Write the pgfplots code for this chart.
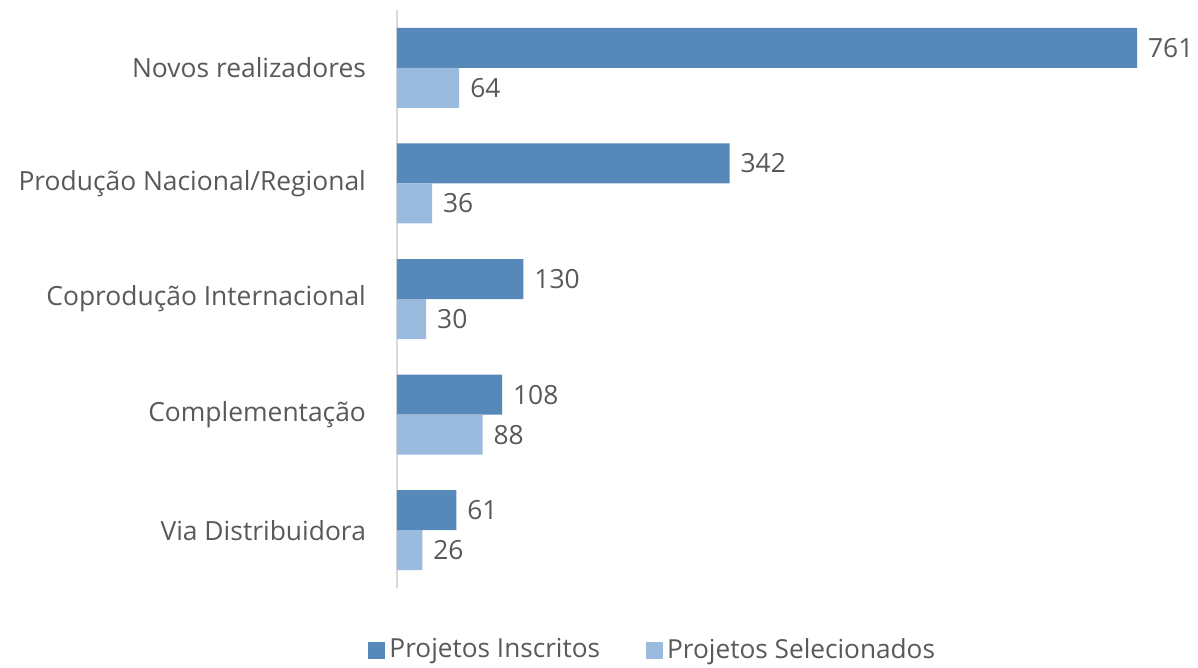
\documentclass[border=0pt]{standalone}
\usepackage{fontspec}
\setmainfont{Open Sans}
\usepackage{pgfplots}
\pgfplotsset{compat=1.18}
\definecolor{inscr}{RGB}{86,137,185}
\definecolor{selec}{RGB}{155,187,222}
\definecolor{txt}{RGB}{89,89,89}
\definecolor{axln}{RGB}{217,217,217}

\begin{document}
\begin{tikzpicture}
\path[use as bounding box] (-198.5pt,-40pt) rectangle (400.5pt,294pt);
\begin{axis}[
  scale only axis,
  width=370pt, height=289pt,
  xbar, bar width=20pt,
  xmin=0, xmax=761,
  ymin=-0.5, ymax=4.5,
  y dir=reverse,
  ytick={0,1,2,3,4},
  yticklabels={Novos realizadores,Produção Nacional/Regional,Coprodução Internacional,Complementação,Via Distribuidora},
  yticklabel style={font=\fontsize{13.2}{15}\selectfont, text=txt, xshift=-12pt},
  major tick length=0pt,
  axis x line=none,
  axis y line*=left,
  axis line style={axln, line width=1pt},
  y axis line style={-},
  /pgf/number format/assume math mode=true,
  nodes near coords,
  nodes near coords style={font=\fontsize{13.2}{15}\selectfont, text=txt, xshift=2pt},
  every node near coord/.append style={anchor=west},
  legend style={draw=none, at={(0.347,-0.107)}, anchor=center,
    legend columns=2, font=\fontsize{13.1}{15}\selectfont, text=txt,
    /tikz/every even column/.append style={column sep=21pt}},
  legend image code/.code={\fill[#1] (-2.5pt,-4.5pt) rectangle (6pt,4pt);},
  clip=false,
]
\addplot[fill=inscr, draw=none, bar shift=10pt] coordinates {(761,0) (342,1) (130,2) (108,3) (61,4)};
\addplot[fill=selec, draw=none, bar shift=-10pt] coordinates {(64,0) (36,1) (30,2) (88,3) (26,4)};
\legend{Projetos Inscritos, Projetos Selecionados}
\end{axis}
\end{tikzpicture}
\end{document}
